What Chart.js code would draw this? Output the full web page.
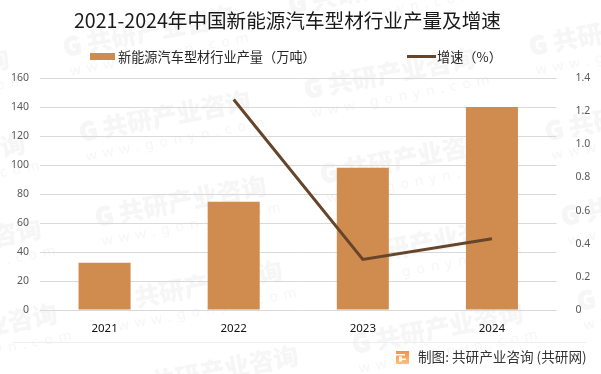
<!DOCTYPE html>
<html>
<head>
<meta charset="utf-8">
<script src="https://cdn.jsdelivr.net/npm/chart.js@4/dist/chart.umd.min.js"></script>
<style>
  html, body { margin: 0; padding: 0; background: #fff; }
  #wrap { position: relative; width: 601px; height: 374px; }
</style>
</head>
<body>
<div id="wrap"><canvas id="chart" width="601" height="374"></canvas></div>
<script>
// Data
const years = ['2021', '2022', '2023', '2024'];
const output = [32.6, 74.7, 98.1, 140];
const growth = [null, 1.27, 0.305, 0.43];

const titleText = '2021-2024年中国新能源汽车型材行业产量及增速';
const barLabel = '新能源汽车型材行业产量（万吨）';
const lineLabel = '增速（%）';
const sourceText = '制图: 共研产业咨询 (共研网)';
const markText = '共研产业咨询';
const markUrl = 'www.gonyn.com';

const BAR_COLOR = '#d08b4e';
const LINE_COLOR = '#66452a';
const CJK = '"Noto Sans CJK SC", "Noto Sans", sans-serif';
const LATIN = '"Noto Sans", "Noto Sans CJK SC", sans-serif';

// ── WATERMARK ──────────────────────────────────────────────────────────
function drawMark(ctx, x, y) {
  ctx.save();
  ctx.translate(x, y);
  ctx.rotate(-0.19);
  ctx.fillStyle = '#f6f6f6';
  ctx.strokeStyle = '#f6f6f6';
  ctx.lineWidth = 1;
  ctx.font = '900 25px ' + CJK;
  ctx.textBaseline = 'alphabetic';
  ctx.fillText('G', 1, 0);
  ctx.strokeText('G', 1, 0);
  ctx.fillText(markText, 25, 0);
  ctx.font = '14px ' + LATIN;
  ctx.letterSpacing = '6px';
  ctx.fillText(markUrl, 3, 20);
  ctx.restore();
}

const pagePlugin = {
  id: 'page',
  beforeDraw(chart) {
    const ctx = chart.ctx;
    ctx.save();
    ctx.fillStyle = '#fff';
    ctx.fillRect(0, 0, chart.width, chart.height);
    for (let i = -1; i < 4; i++) {
      for (let j = -1; j < 6; j++) {
        drawMark(ctx, 80 + i * 225 + j * 16, 142 - i * 43 + j * 85);
      }
    }
    ctx.restore();
  },
  afterDraw(chart) {
    const ctx = chart.ctx;
    ctx.save();
    ctx.textBaseline = 'middle';

    // title
    ctx.fillStyle = '#1a1a1a';
    ctx.font = '19.6px ' + CJK;
    ctx.fillText(titleText, 74, 21);

    // legend
    ctx.fillStyle = BAR_COLOR;
    ctx.fillRect(90, 53, 25, 7);
    ctx.strokeStyle = LINE_COLOR;
    ctx.lineWidth = 3;
    ctx.beginPath();
    ctx.moveTo(407, 56.5);
    ctx.lineTo(436, 56.5);
    ctx.stroke();
    ctx.fillStyle = '#262626';
    ctx.font = '13.2px ' + CJK;
    ctx.fillText(barLabel, 118, 56.5);
    ctx.fillText(lineLabel, 437, 56.5);

    // footer
    ctx.strokeStyle = '#eeeeee';
    ctx.lineWidth = 1;
    ctx.beginPath();
    ctx.moveTo(13, 342.5);
    ctx.lineTo(586, 342.5);
    ctx.stroke();

    const grad = ctx.createLinearGradient(396, 351, 396, 364);
    grad.addColorStop(0, '#f58f4f');
    grad.addColorStop(1, '#f9c27a');
    ctx.fillStyle = grad;
    ctx.fillRect(396, 351, 13, 13);
    ctx.fillStyle = '#fff';
    ctx.fillRect(396, 354, 9, 1.5);
    ctx.fillRect(399, 356.5, 3, 5);
    ctx.fillRect(402, 358.5, 4, 1.5);

    ctx.fillStyle = '#333';
    ctx.font = '13.6px ' + CJK;
    ctx.fillText(sourceText, 418, 357);
    ctx.restore();
  }
};

// ── CHART ──────────────────────────────────────────────────────────────
new Chart(document.getElementById('chart'), {
  data: {
    labels: years,
    datasets: [
      {
        type: 'line',
        label: lineLabel,
        data: growth,
        yAxisID: 'y1',
        borderColor: LINE_COLOR,
        borderWidth: 3,
        pointRadius: 0,
        tension: 0,
        spanGaps: false,
        order: 1,
      },
      {
        type: 'bar',
        label: barLabel,
        data: output,
        yAxisID: 'y',
        backgroundColor: BAR_COLOR,
        barPercentage: 0.403,
        categoryPercentage: 1,
        order: 2,
      }
    ]
  },
  options: {
    responsive: false,
    animation: false,
    layout: { padding: { top: 78, left: 0, right: 0, bottom: 0 } },
    plugins: {
      legend: { display: false },
      title: { display: false },
      tooltip: { enabled: false }
    },
    scales: {
      x: {
        afterFit: (s) => { s.height = 64; },
        grid: { display: false },
        border: { display: false },
        ticks: {
          color: '#111',
          padding: 4,
          font: { family: LATIN, size: 11.5 }
        }
      },
      y: {
        position: 'left',
        min: 0,
        max: 160,
        afterFit: (s) => { s.width = 40; },
        grid: { color: '#d9d9d9', lineWidth: 1, drawTicks: false },
        border: { display: false },
        ticks: {
          stepSize: 20,
          color: '#595959',
          padding: 11,
          font: { family: LATIN, size: 10.5 }
        }
      },
      y1: {
        position: 'right',
        min: 0,
        max: 1.4,
        afterFit: (s) => { s.width = 44.5; },
        grid: { display: false },
        border: { display: false },
        ticks: {
          stepSize: 0.2,
          color: '#595959',
          padding: 11,
          font: { family: LATIN, size: 10.5 }
        }
      }
    }
  },
  plugins: [pagePlugin]
});
</script>
</body>
</html>
